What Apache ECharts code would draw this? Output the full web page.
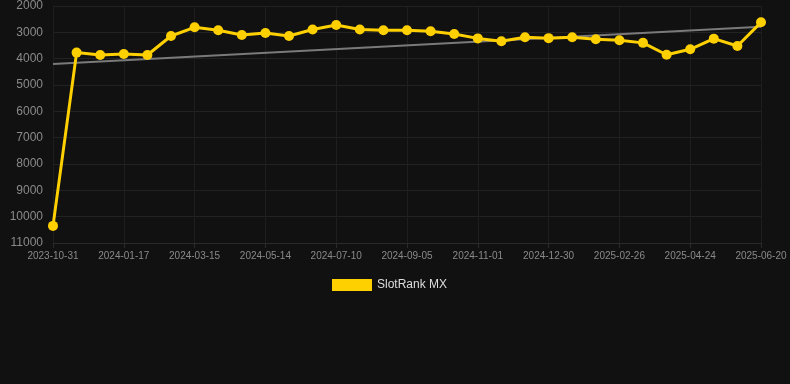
<!DOCTYPE html>
<html>
<head>
<meta charset="utf-8">
<script src="https://cdn.jsdelivr.net/npm/echarts@6/dist/echarts.min.js"></script>
<style>
  html, body { margin: 0; padding: 0; background: #111111; }
  #chart { width: 790px; height: 384px; }
</style>
</head>
<body>
<div id="chart"></div>
<script>
// dates on the x axis (every 3rd one is labelled)
const dates = [
  '2023-10-31', '2023-11-26', '2023-12-22', '2024-01-17', '2024-02-05', '2024-02-24',
  '2024-03-15', '2024-04-04', '2024-04-24', '2024-05-14', '2024-06-02', '2024-06-21',
  '2024-07-10', '2024-07-29', '2024-08-17', '2024-09-05', '2024-09-24', '2024-10-13',
  '2024-11-01', '2024-11-20', '2024-12-10', '2024-12-30', '2025-01-18', '2025-02-06',
  '2025-02-26', '2025-03-17', '2025-04-05', '2025-04-24', '2025-05-13', '2025-06-01',
  '2025-06-20'
];

// rank values
const rankMX = [
  10350, 3770, 3860, 3820, 3860, 3140,
  2810, 2920, 3100, 3025, 3140, 2890,
  2720, 2890, 2920, 2920, 2960, 3060,
  3230, 3340, 3190, 3220, 3190, 3265,
  3300, 3400, 3850, 3645, 3240, 3520,
  2620
];

// trend line ends (first and last date)
const trendStart = 4200;
const trendEnd = 2790;
const trend = dates.map((_, i) =>
  i === 0 ? trendStart : i === dates.length - 1 ? trendEnd : null
);

const chart = echarts.init(document.getElementById('chart'));

const option = {
  backgroundColor: '#111111',
  animation: false,
  textStyle: { fontFamily: 'Arial, "Liberation Sans", sans-serif' },
  grid: { left: 53, right: 29, top: 6, bottom: 141, containLabel: false },
  legend: {
    bottom: 88,
    left: 327,
    icon: 'rect',
    itemWidth: 40,
    itemHeight: 12,
    textStyle: { color: '#dddddd', fontSize: 12 },
    data: ['SlotRank MX'],
  },
  xAxis: {
    type: 'category',
    data: dates,
    boundaryGap: false,
    axisLine: { lineStyle: { color: '#2a2a2a' } },
    axisTick: { show: true, interval: 2, lineStyle: { color: '#2a2a2a' } },
    axisLabel: { interval: 2, color: '#8a8a8a', fontSize: 10, margin: 8 },
    splitLine: { show: true, interval: 2, lineStyle: { color: '#1e1e1e' } },
  },
  yAxis: {
    type: 'value',
    inverse: true,
    min: 2000,
    max: 11000,
    interval: 1000,
    axisLine: { show: false },
    axisTick: { show: false },
    axisLabel: {
      color: '#8a8a8a',
      fontSize: 12,
      margin: 10,
      formatter: (v) => String(v),
    },
    splitLine: { lineStyle: { color: '#222222' } },
  },
  series: [
    {
      name: 'Trend',
      type: 'line',
      data: trend,
      connectNulls: true,
      symbol: 'none',
      lineStyle: { color: '#7a7a7a', width: 2 },
      z: 1,
    },
    {
      name: 'SlotRank MX',
      type: 'line',
      data: rankMX,
      symbol: 'circle',
      symbolSize: 10,
      itemStyle: { color: '#ffd000' },
      lineStyle: { color: '#ffd000', width: 3 },
      z: 2,
    },
  ],
};

chart.setOption(option);
</script>
</body>
</html>
